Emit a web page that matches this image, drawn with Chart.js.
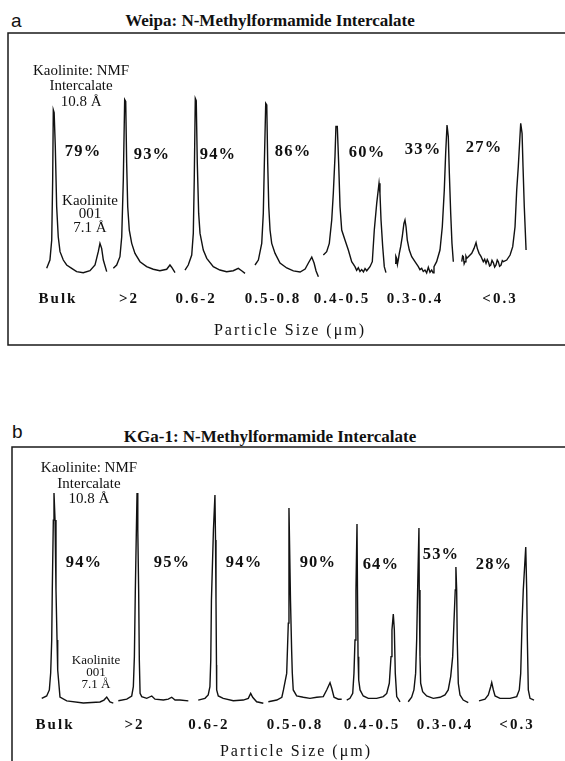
<!DOCTYPE html>
<html>
<head>
<meta charset="utf-8">
<script src="https://cdn.jsdelivr.net/npm/chart.js@4.4.0/dist/chart.umd.min.js"></script>
<style>
  html, body { margin: 0; padding: 0; background: #fff; }
  body { width: 565px; height: 761px; overflow: hidden; position: relative; }
  canvas { position: absolute; left: 0; }
  .tag { position: absolute; font: 19px "Liberation Sans", Arial, sans-serif; line-height: 19px; color: #111; }
  .ttl { position: absolute; left: 0; width: 540px; text-align: center; font: bold 17px "Liberation Serif", "Times New Roman", serif; line-height: 17px; color: #111; }
</style>
</head>
<body>
<div class="tag" style="left:11px; top:11px">a</div>
<div class="ttl" style="top:12px">Weipa: N-Methylformamide Intercalate</div>
<canvas id="chartA" width="580" height="350" style="top:0"></canvas>

<div class="tag" style="left:12px; top:422px">b</div>
<div class="ttl" style="top:428px">KGa-1: N-Methylformamide Intercalate</div>
<canvas id="chartB" width="580" height="343" style="top:418px"></canvas>

<script>
// particle size fractions, same for both clays
const sizeLabels = ["Bulk", ">2", "0.6-2", "0.5-0.8", "0.4-0.5", "0.3-0.4", "<0.3"]

// % intercalated
const intercalateA = ["79%", "93%", "94%", "86%", "60%", "33%", "27%"]
const intercalateB = ["94%", "95%", "94%", "90%", "64%", "53%", "28%"]

// XRD scans: [2-theta (deg), intensity (% of tallest reflection)]
// 10.8 A (NMF intercalate) near 8.2 deg, 7.1 A (kaolinite 001) near 12.4 deg

// a) Weipa
const weipaBulk = [[7.58,6.3],[7.89,10.8],[8.06,21.6],[8.15,54.1],[8.21,92.0],[8.29,90.5],[8.40,72.1],[8.53,39.6],[8.68,23.4],[8.85,15.3],[9.16,10.8],[9.48,8.1],[9.96,6.3],[10.43,4.5],[11.06,3.9],[11.70,5.0],[12.18,8.1],[12.49,15.3],[12.65,19.8],[12.81,17.1],[12.97,10.8],[13.29,4.5]]
const weipaGt2 = [[7.07,6.3],[7.39,8.1],[7.70,12.6],[7.87,23.4],[8.02,54.1],[8.15,97.5],[8.25,96.5],[8.34,63.1],[8.44,39.6],[8.59,27.0],[8.82,19.8],[9.13,14.4],[9.61,9.9],[10.24,7.2],[10.87,5.8],[11.50,5.0],[12.15,5.8],[12.46,8.1],[12.62,6.9],[12.94,4.0]]
const weipa06_2 = [[7.23,5.4],[7.54,8.1],[7.87,13.5],[8.02,25.2],[8.11,54.1],[8.21,98.2],[8.30,97.0],[8.40,63.1],[8.53,36.0],[8.66,25.2],[8.97,16.2],[9.30,11.7],[9.92,7.2],[10.55,5.4],[11.19,4.5],[11.82,5.0],[12.30,6.3],[12.62,5.0],[12.94,3.6]]
const weipa05_08 = [[7.13,8.1],[7.45,10.8],[7.77,19.8],[7.92,36.0],[8.02,63.1],[8.15,95.5],[8.25,94.6],[8.34,63.1],[8.44,39.6],[8.56,27.0],[8.72,19.8],[9.04,14.4],[9.51,9.2],[10.15,6.5],[10.78,4.9],[11.42,4.3],[11.90,5.9],[12.21,9.2],[12.53,12.4],[12.75,9.2],[12.94,4.9],[13.16,1.8]]
const weipa04_05 = [[6.88,13.5],[7.20,15.3],[7.45,19.8],[7.68,32.4],[7.83,46.8],[7.99,66.7],[8.08,83.0],[8.21,83.0],[8.34,63.1],[8.47,39.6],[8.63,27.0],[8.94,21.6],[9.26,16.2],[9.58,9.9],[9.89,7.2],[10.05,5.2],[10.21,6.6],[10.37,4.6],[10.53,5.6],[10.70,4.4],[10.85,6.2],[11.01,5.0],[11.32,7.2],[11.54,9.9],[11.73,27.0],[11.96,41.4],[12.18,52.3],[12.27,46.8],[12.37,32.4],[12.53,18.0],[12.68,7.2],[12.84,4.0]]
const weipa03_04 = [[7.23,9.0],[7.31,12.8],[7.39,11.7],[7.46,8.5],[7.54,10.8],[7.64,14.4],[7.77,18.0],[7.92,23.4],[8.08,30.6],[8.18,32.4],[8.28,28.8],[8.40,21.6],[8.59,16.2],[8.82,12.6],[9.13,9.9],[9.45,7.2],[9.60,5.6],[9.77,6.3],[9.92,4.6],[10.08,5.4],[10.24,3.8],[10.40,6.9],[10.56,4.2],[10.72,5.4],[10.85,3.9],[10.94,7.2],[11.19,9.9],[11.51,16.2],[11.73,28.8],[11.92,48.6],[12.05,68.5],[12.18,83.8],[12.30,77.5],[12.40,57.7],[12.53,36.0],[12.65,19.8],[12.78,9.9]]
const weipaLt03 = [[6.82,9.9],[6.90,13.0],[6.97,12.6],[7.05,8.8],[7.13,9.9],[7.22,12.8],[7.30,11.7],[7.45,12.6],[7.77,14.4],[7.99,17.1],[8.18,20.2],[8.30,17.1],[8.47,14.4],[8.66,12.6],[8.87,9.9],[9.00,11.2],[9.13,9.0],[9.25,11.0],[9.35,9.9],[9.47,7.6],[9.58,8.1],[9.70,10.6],[9.83,9.3],[9.95,7.0],[10.08,8.1],[10.20,10.8],[10.30,9.9],[10.42,7.4],[10.56,8.1],[10.68,10.5],[10.78,9.9],[11.10,10.8],[11.42,13.5],[11.67,18.0],[11.89,28.8],[12.05,48.6],[12.20,61.3],[12.34,75.7],[12.43,84.7],[12.56,79.3],[12.65,61.3],[12.77,39.6],[12.94,16.2]]

// b) KGa-1
const kgaBulk = [[6.89,3.1],[7.41,4.2],[7.69,7.0],[7.83,14.9],[7.94,30.2],[8.00,53.5],[8.11,86.0],[8.18,98.6],[8.29,86.0],[8.39,53.5],[8.50,30.2],[8.57,16.3],[8.81,3.7],[9.52,1.9],[11.27,0.9],[13.02,1.4],[13.44,2.3],[13.73,3.7],[14.07,1.4],[14.42,0.9]]
const kgaGt2 = [[6.21,2.0],[7.10,2.7],[7.62,4.2],[7.79,8.5],[7.90,22.5],[8.00,53.5],[8.11,81.4],[8.18,98.6],[8.26,81.4],[8.35,53.5],[8.42,20.9],[8.50,5.4],[8.67,3.9],[9.20,3.1],[9.73,4.2],[10.07,2.7],[10.95,2.3],[11.47,2.7],[11.83,3.6],[12.18,2.3],[12.70,2.3],[13.58,1.9]]
const kga06_2 = [[6.42,2.3],[7.13,3.1],[7.47,4.7],[7.65,8.5],[7.74,20.9],[7.81,48.8],[8.02,81.4],[8.18,97.7],[8.24,76.7],[8.29,48.8],[8.34,18.6],[8.36,7.0],[8.53,4.2],[9.05,3.1],[10.11,2.0],[11.16,2.3],[11.69,3.1],[11.94,5.4],[12.15,3.6],[12.57,1.5],[13.27,0.8]]
const kga05_08 = [[6.01,1.5],[6.90,2.3],[7.43,3.6],[7.60,7.0],[7.94,14.7],[8.11,38.1],[8.18,91.6],[8.34,48.8],[8.46,25.6],[8.53,14.9],[8.63,7.0],[8.99,4.2],[9.69,3.6],[10.39,3.1],[11.10,3.6],[11.79,3.9],[12.15,7.0],[12.50,10.4],[12.68,7.8],[12.92,3.6],[13.37,2.7],[13.73,2.7]]
const kga04_05 = [[7.10,2.3],[7.44,3.1],[7.73,5.4],[7.86,14.7],[7.97,30.2],[8.07,53.5],[8.18,84.2],[8.23,53.5],[8.29,22.5],[8.36,11.6],[8.50,7.0],[8.84,4.2],[9.37,3.1],[10.25,3.1],[10.95,3.9],[11.31,5.4],[11.58,10.1],[11.76,22.5],[11.86,34.9],[12.00,42.3],[12.11,34.9],[12.21,14.7],[12.36,3.9],[12.71,1.5]]
const kga03_04 = [[7.05,1.5],[7.41,3.6],[7.65,7.0],[7.83,14.7],[7.94,30.2],[8.04,53.5],[8.18,82.3],[8.21,53.5],[8.29,22.5],[8.36,10.1],[8.57,6.2],[8.99,4.2],[9.69,3.1],[10.39,3.6],[10.92,4.7],[11.26,7.0],[11.52,13.2],[11.73,22.5],[11.86,38.0],[12.00,53.5],[12.07,64.2],[12.15,53.5],[12.21,30.2],[12.32,10.1],[12.50,4.7],[12.84,2.3],[13.37,1.1]]
const kgaLt03 = [[6.81,1.9],[7.44,2.7],[7.79,4.7],[8.04,8.5],[8.15,10.4],[8.32,7.0],[8.50,4.2],[9.02,3.1],[10.07,3.1],[10.78,3.9],[11.05,7.0],[11.20,14.7],[11.34,38.0],[11.47,53.5],[11.73,73.5],[11.83,53.5],[11.90,30.2],[12.00,7.0],[12.18,3.1],[12.60,2.3]]

const weipaScans = [weipaBulk, weipaGt2, weipa06_2, weipa05_08, weipa04_05, weipa03_04, weipaLt03]
const kgaScans = [kgaBulk, kgaGt2, kga06_2, kga05_08, kga04_05, kga03_04, kgaLt03]

// horizontal stacking offset of each scan (deg)
const shiftA = [0, 6.85, 13.51, 20.27, 27.02, 33.49, 40.25]
const shiftB = [0, 8.74, 16.94, 24.73, 31.89, 38.41, 46.10]

// where the size labels sit on the shared x axis
const tickA = [8.66, 15.41, 21.79, 29.11, 35.68, 42.63, 50.71]
const tickB = [8.29, 16.65, 24.49, 33.54, 41.65, 49.33, 56.91]

// anchor of each % label (x, intensity)
const pctAtA = [[11.04,69.2],[17.6,67.6],[23.88,67.6],[31.02,69.2],[38.06,68.6],[43.39,70.3],[49.19,71.4]]
const pctAtB = [[11.34,66.0],[20.60,66.0],[28.18,66.0],[35.96,66.0],[42.59,65.1],[48.91,69.8],[54.49,65.1]]

const SERIF = "'Liberation Serif', 'Times New Roman', serif"

const frame = {
  id: "frame",
  beforeDraw(chart, args, o) {
    const { ctx } = chart
    ctx.save()
    ctx.strokeStyle = "#1a1a1a"
    ctx.lineWidth = 1.5
    ctx.beginPath()
    ctx.moveTo(chart.width, o.top)
    ctx.lineTo(o.left, o.top)
    ctx.lineTo(o.left, o.bottom)
    if (o.closed) ctx.lineTo(chart.width, o.bottom)
    ctx.stroke()
    ctx.restore()
    // spaced-out lettering for the size labels and axis title
    ctx.letterSpacing = "2px"
  },
  afterDraw(chart) {
    chart.ctx.letterSpacing = "0px"
  },
}

const notes = {
  id: "notes",
  afterDatasetsDraw(chart, args, o) {
    const { ctx, scales: { x, y } } = chart
    ctx.save()
    ctx.fillStyle = "#111"
    ctx.textAlign = "center"
    ctx.textBaseline = "middle"
    ctx.letterSpacing = "1.2px"
    ctx.font = `bold 16.5px ${SERIF}`
    o.pct.forEach((txt, i) => {
      ctx.fillText(txt, x.getPixelForValue(o.pctAt[i][0]), y.getPixelForValue(o.pctAt[i][1]))
    })
    ctx.letterSpacing = "0px"
    o.labels.forEach((n) => {
      ctx.font = `${n.size}px ${SERIF}`
      const px = x.getPixelForValue(n.at[0])
      const py = y.getPixelForValue(n.at[1])
      n.lines.forEach((s, k) => ctx.fillText(s, px, py + k * n.gap))
    })
    ctx.restore()
  },
}

function makeChart(id, cfg) {
  return new Chart(document.getElementById(id), {
    type: "line",
    data: {
      datasets: cfg.scans.map((scan, i) => ({
        data: scan.map(([tt, c]) => ({ x: tt + cfg.shift[i], y: c })),
        borderColor: "#111",
        borderWidth: 1.4,
        pointRadius: 0,
        tension: 0,
        fill: false,
        clip: false,
      })),
    },
    options: {
      responsive: false,
      animation: false,
      devicePixelRatio: 1,
      layout: { padding: cfg.pad },
      plugins: {
        legend: { display: false },
        tooltip: { enabled: false },
        title: { display: false },
        frame: cfg.frame,
        notes: { pct: cfg.pct, pctAt: cfg.pctAt, labels: cfg.labels },
      },
      scales: {
        x: {
          type: "linear",
          min: cfg.xMin,
          max: cfg.xMax,
          grid: { display: false, drawTicks: false },
          border: { display: false },
          afterBuildTicks: (s) => { s.ticks = cfg.ticks.map((v) => ({ value: v })) },
          afterFit: (s) => { s.height = cfg.axisH },
          ticks: {
            autoSkip: false,
            maxRotation: 0,
            minRotation: 0,
            padding: cfg.tickPad,
            color: "#111",
            font: { family: SERIF, size: 15, weight: "bold" },
            callback: (v, i) => sizeLabels[i],
          },
          title: {
            display: true,
            text: "Particle Size (μm)",
            color: "#111",
            font: { family: SERIF, size: 16 },
            padding: { top: 0, bottom: cfg.titlePad },
          },
        },
        y: { display: false, min: 0, max: 100 },
      },
    },
    plugins: [frame, notes],
  })
}

makeChart("chartA", {
  scans: weipaScans,
  shift: shiftA,
  ticks: tickA,
  pct: intercalateA,
  pctAt: pctAtA,
  xMin: 3.9,
  xMax: 57.56,
  pad: { top: 95, left: 8, right: 8, bottom: 0 },
  axisH: 70,
  tickPad: 10,
  titlePad: 10,
  frame: { left: 8, top: 33, bottom: 345, closed: true },
  labels: [
    { at: [10.85, 113], size: 15, gap: 15.5, lines: ["Kaolinite: NMF", "Intercalate", "10.8 Å"] },
    { at: [11.70, 42.7], size: 15, gap: 13.5, lines: ["Kaolinite", "001", "7.1 Å"] },
  ],
})

makeChart("chartB", {
  scans: kgaScans,
  shift: shiftB,
  ticks: tickB,
  pct: intercalateB,
  pctAt: pctAtB,
  xMin: 3.76,
  xMax: 63.54,
  pad: { top: 72, left: 12, right: 0, bottom: 0 },
  axisH: 56,
  tickPad: 11,
  titlePad: 0,
  frame: { left: 12, top: 29, bottom: 400, closed: false },
  labels: [
    { at: [11.86, 110.2], size: 15, gap: 15.5, lines: ["Kaolinite: NMF", "Intercalate", "10.8 Å"] },
    { at: [12.60, 20.5], size: 13, gap: 12, lines: ["Kaolinite", "001", "7.1 Å"] },
  ],
})
</script>
</body>
</html>
